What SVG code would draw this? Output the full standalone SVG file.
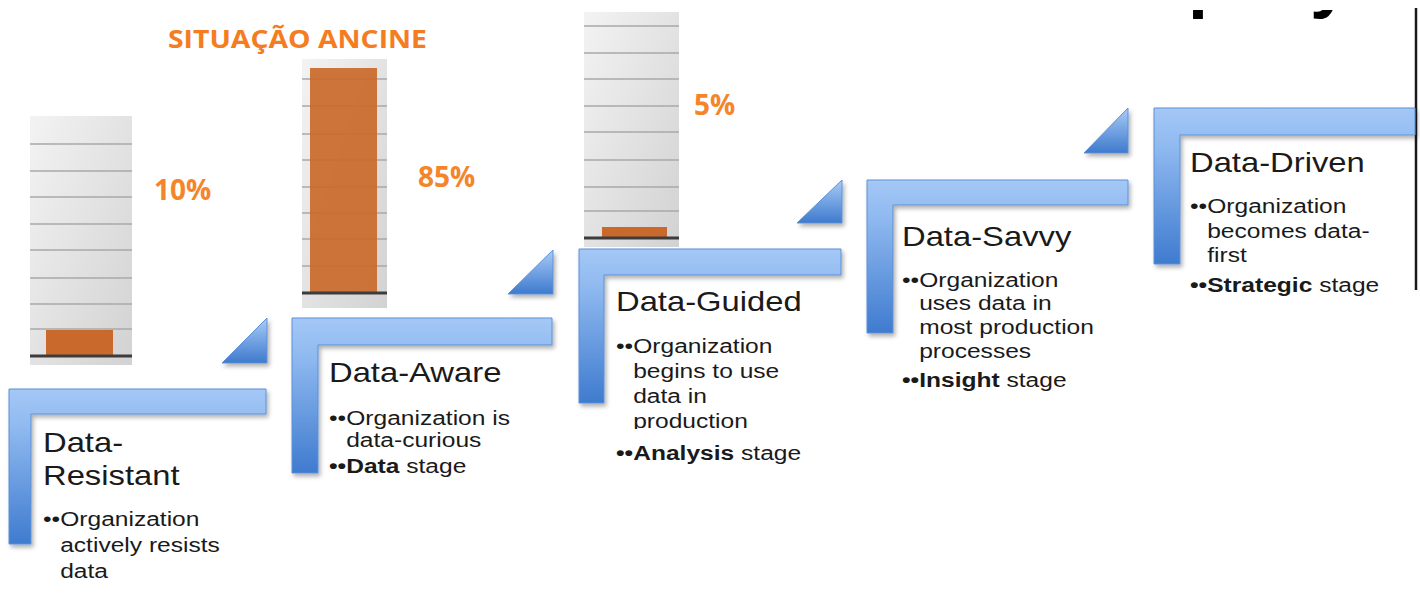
<svg xmlns="http://www.w3.org/2000/svg" width="1420" height="603" viewBox="0 0 1420 603">
  <defs>
    <style>
      .title { font-family: "Liberation Sans", Arial, sans-serif; font-size: 28px; fill: #1a1a1a; }
      .body { font-family: "Liberation Sans", Arial, sans-serif; font-size: 21px; fill: #1a1a1a; }
      .b { font-weight: bold; }
      .pct { font-family: "Open Sans", "Liberation Sans", sans-serif; font-weight: bold; font-size: 28px; fill: #F5852A; }
      .heading { font-family: "Open Sans", "Liberation Sans", sans-serif; font-weight: bold; font-size: 25px; fill: #F47D22; }
      .step { fill: url(#stepFill); stroke: #5C90D8; stroke-width: 1; filter: url(#shadow); }
      .riser { fill: url(#riserFill); stroke: #5C90D8; stroke-width: 1; filter: url(#shadow); }
      .panel { fill: url(#panelFill); }
      .grid { stroke: #A8A8A8; stroke-width: 1.5; }
      .axis { stroke: #3C3C3C; stroke-width: 3; }
      .bar { fill: #C96A2C; }
      .frag { font-family: "Liberation Sans", Arial, sans-serif; font-weight: bold; font-size: 72px; fill: #000; }
    </style>
    <linearGradient id="stepFill" x1="0" y1="0" x2="0" y2="1">
      <stop offset="0" stop-color="#A4C8F6"/>
      <stop offset="0.25" stop-color="#8FB9F0"/>
      <stop offset="1" stop-color="#3F7BCF"/>
    </linearGradient>
    <linearGradient id="riserFill" x1="0" y1="0" x2="0" y2="1">
      <stop offset="0" stop-color="#A9CCF7"/>
      <stop offset="1" stop-color="#3E7ACD"/>
    </linearGradient>
    <linearGradient id="panelFill" x1="0" y1="0" x2="1" y2="1">
      <stop offset="0" stop-color="#F3F3F3"/>
      <stop offset="1" stop-color="#D2D2D2"/>
    </linearGradient>
    <filter id="shadow" x="-10%" y="-10%" width="130%" height="130%">
      <feDropShadow dx="2" dy="3" stdDeviation="2" flood-color="#000" flood-opacity="0.3"/>
    </filter>
    <clipPath id="cutN3">
      <rect x="600" y="280" width="300" height="149"/>
    </clipPath>
  </defs>

  <rect width="1420" height="603" fill="#ffffff"/>

  <!-- descenders of a title line that runs off the top edge -->
  <g id="title-fragment">
    <text class="frag" x="1188" y="4">p</text>
    <text class="frag" x="1310" y="4">y</text>
    <rect x="1100" y="0" width="300" height="10" fill="#ffffff"/>
  </g>
  <line x1="1416" y1="8" x2="1416" y2="290" stroke="#1a1a1a" stroke-width="2.5"/>

  <!-- bar charts -->
  <g id="chart-heading">
    <text class="heading" x="168" y="48" textLength="259" lengthAdjust="spacingAndGlyphs">SITUAÇÃO ANCINE</text>
  </g>

  <g id="chart-1">
    <rect class="panel" x="30" y="116" width="102" height="249"/>
    <g class="grid">
      <line x1="30" y1="144" x2="132" y2="144"/>
      <line x1="30" y1="171" x2="132" y2="171"/>
      <line x1="30" y1="197" x2="132" y2="197"/>
      <line x1="30" y1="224" x2="132" y2="224"/>
      <line x1="30" y1="250" x2="132" y2="250"/>
      <line x1="30" y1="278" x2="132" y2="278"/>
      <line x1="30" y1="304" x2="132" y2="304"/>
      <line x1="30" y1="329" x2="132" y2="329"/>
    </g>
    <rect class="bar" x="46" y="330" width="67" height="26"/>
    <line class="axis" x1="30" y1="356" x2="132" y2="356"/>
    <text class="pct" x="154" y="200">10%</text>
  </g>

  <g id="chart-2">
    <rect class="panel" x="302" y="59" width="85" height="249"/>
    <g class="grid">
      <line x1="302" y1="79" x2="387" y2="79"/>
      <line x1="302" y1="106" x2="387" y2="106"/>
      <line x1="302" y1="134" x2="387" y2="134"/>
      <line x1="302" y1="160" x2="387" y2="160"/>
      <line x1="302" y1="187" x2="387" y2="187"/>
      <line x1="302" y1="213" x2="387" y2="213"/>
      <line x1="302" y1="239" x2="387" y2="239"/>
      <line x1="302" y1="266" x2="387" y2="266"/>
    </g>
    <rect class="bar" x="310" y="68" width="67" height="225" opacity="0.93"/>
    <line class="axis" x1="302" y1="293" x2="387" y2="293"/>
    <text class="pct" x="418" y="187">85%</text>
  </g>

  <g id="chart-3">
    <rect class="panel" x="584" y="12" width="95" height="235"/>
    <g class="grid">
      <line x1="584" y1="26" x2="679" y2="26"/>
      <line x1="584" y1="53" x2="679" y2="53"/>
      <line x1="584" y1="79" x2="679" y2="79"/>
      <line x1="584" y1="106" x2="679" y2="106"/>
      <line x1="584" y1="132" x2="679" y2="132"/>
      <line x1="584" y1="160" x2="679" y2="160"/>
      <line x1="584" y1="187" x2="679" y2="187"/>
      <line x1="584" y1="211" x2="679" y2="211"/>
    </g>
    <rect class="bar" x="602" y="227" width="65" height="11"/>
    <line class="axis" x1="584" y1="238" x2="679" y2="238"/>
    <text class="pct" x="694" y="115">5%</text>
  </g>

  <!-- risers between the steps -->
  <g id="connectors">
    <polygon class="riser" points="267,318 267,363 222,363"/>
    <polygon class="riser" points="553,250 553,294 508,294"/>
    <polygon class="riser" points="842,180 842,223 797,223"/>
    <polygon class="riser" points="1128,108 1128,153 1084,153"/>
  </g>

  <!-- steps -->
  <g id="data-resistant">
    <path class="step" d="M9,389 H266 V414 H31 V544 H9 Z"/>
    <g transform="translate(43,0) scale(1.17,1)">
      <text class="title" x="0" y="452">Data-</text>
      <text class="title" x="0" y="485">Resistant</text>
      <text class="body" x="0" y="526">••Organization</text>
      <text class="body" x="14.7" y="552">actively resists</text>
      <text class="body" x="14.7" y="578">data</text>
    </g>
  </g>

  <g id="data-aware">
    <path class="step" d="M292,318 H552 V345 H318 V473 H292 Z"/>
    <g transform="translate(329,0) scale(1.17,1)">
      <text class="title" x="0" y="382">Data-Aware</text>
      <text class="body" x="0" y="425">••Organization is</text>
      <text class="body" x="14.7" y="447">data-curious</text>
      <text class="body" x="0" y="473"><tspan class="b">••Data</tspan> stage</text>
    </g>
  </g>

  <g id="data-guided">
    <path class="step" d="M579,249 H841 V275 H604 V403 H579 Z"/>
    <g clip-path="url(#cutN3)">
      <g transform="translate(616,0) scale(1.17,1)">
        <text class="body" x="0" y="353">••Organization</text>
        <text class="body" x="14.7" y="378">begins to use</text>
        <text class="body" x="14.7" y="403">data in</text>
        <text class="body" x="14.7" y="428">production</text>
      </g>
    </g>
    <g transform="translate(616,0) scale(1.17,1)">
      <text class="title" x="0" y="311">Data-Guided</text>
      <text class="body" x="0" y="460"><tspan class="b">••Analysis</tspan> stage</text>
    </g>
  </g>

  <g id="data-savvy">
    <path class="step" d="M867,180 H1128 V205 H893 V333 H867 Z"/>
    <g transform="translate(902,0) scale(1.17,1)">
      <text class="title" x="0" y="246">Data-Savvy</text>
      <text class="body" x="0" y="287">••Organization</text>
      <text class="body" x="14.7" y="310">uses data in</text>
      <text class="body" x="14.7" y="334">most production</text>
      <text class="body" x="14.7" y="358">processes</text>
      <text class="body" x="0" y="387"><tspan class="b">••Insight</tspan> stage</text>
    </g>
  </g>

  <g id="data-driven">
    <path class="step" d="M1154,108 H1415 V135 H1180 V264 H1154 Z"/>
    <g transform="translate(1190,0) scale(1.17,1)">
      <text class="title" x="0" y="172">Data-Driven</text>
      <text class="body" x="0" y="213">••Organization</text>
      <text class="body" x="14.7" y="238">becomes data-</text>
      <text class="body" x="14.7" y="262">first</text>
      <text class="body" x="0" y="292"><tspan class="b">••Strategic</tspan> stage</text>
    </g>
  </g>
</svg>
